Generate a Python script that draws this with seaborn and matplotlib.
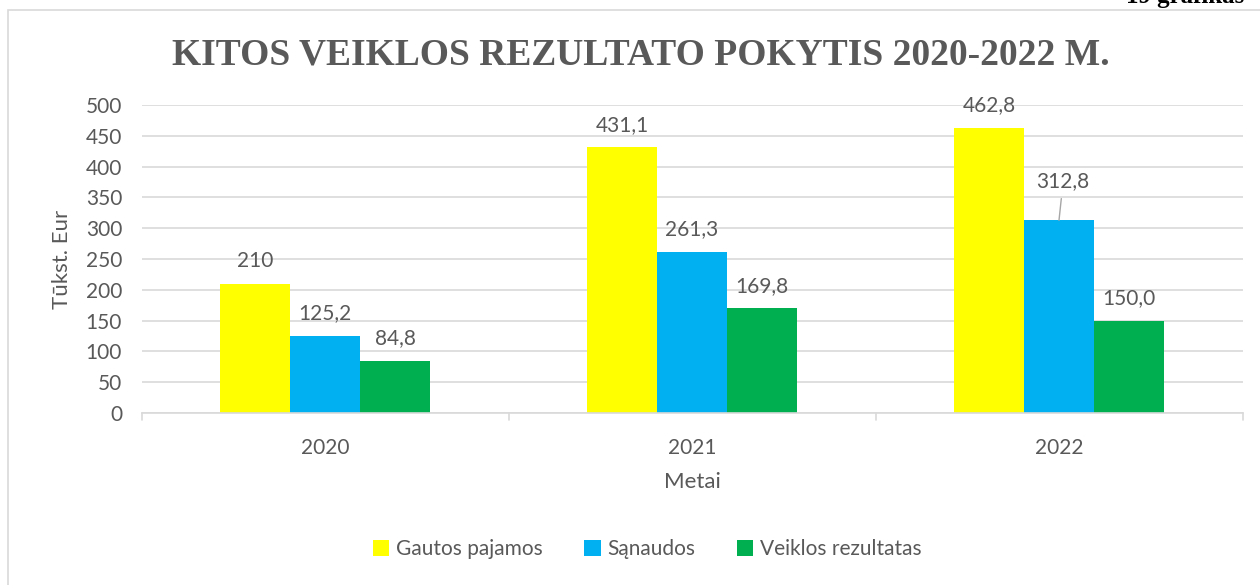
import pandas as pd
import seaborn as sns
import matplotlib.pyplot as plt
from matplotlib.patches import Rectangle

# data
years = ["2020", "2021", "2022"]
series = ["Gautos pajamos", "Sąnaudos", "Veiklos rezultatas"]
pajamos = [210.0, 431.1, 462.8]
sanaudos = [125.2, 261.3, 312.8]
rezultatas = [84.8, 169.8, 150.0]
labels_pajamos = ["210", "431,1", "462,8"]
labels_sanaudos = ["125,2", "261,3", "312,8"]
labels_rezultatas = ["84,8", "169,8", "150,0"]
colors = ["#FFFF00", "#00B0F0", "#00B050"]
txt = "#595959"

df = pd.DataFrame({
    "Metai": years * 3,
    "serija": [s for s in series for _ in years],
    "reiksme": pajamos + sanaudos + rezultatas,
})

sns.set_style("white")
plt.rcParams['font.family'] = ['Lato', 'DejaVu Sans']

fig = plt.figure(figsize=(12.6, 5.85), dpi=100)
# outer chart border
fig.patches.append(Rectangle((8 / 1260, -0.05), 1.1, 1 - 9.5 / 585 + 0.05,
                             transform=fig.transFigure, fill=False,
                             edgecolor="#d9d9d9", linewidth=1.2))
ax = fig.add_axes([141.5 / 1260, 1 - 413 / 585, 1101 / 1260, 308 / 585])

sns.barplot(data=df, x="Metai", y="reiksme", hue="serija", palette=colors,
            width=0.572, gap=0, saturation=1, linewidth=0, ax=ax, legend=True)

ax.set_xlim(-0.5, 2.5)
ax.set_ylim(0, 500)
ax.set_yticks(range(0, 501, 50))
ax.yaxis.grid(True, color="#d9d9d9", linewidth=1.2)
ax.set_axisbelow(True)
for s in ["top", "right", "left"]:
    ax.spines[s].set_visible(False)
ax.spines["bottom"].set_color("#d9d9d9")
ax.spines["bottom"].set_linewidth(1.2)
ax.tick_params(axis="y", length=0, labelsize=15, labelcolor=txt, pad=14)
ax.set_xticks([0, 1, 2])
ax.tick_params(axis="x", length=0, labelsize=15, labelcolor=txt, pad=18)
# category boundary tick marks
for b in [-0.5, 0.5, 1.5, 2.5]:
    ax.plot([b, b], [0, -11], color="#d9d9d9", lw=1.2, clip_on=False)

ax.set_xlabel("Metai", fontsize=16, color=txt, labelpad=10)
ax.set_ylabel("Tūkst. Eur", fontsize=16, color=txt, labelpad=10)

# data labels
all_labels = [labels_pajamos, labels_sanaudos, labels_rezultatas]
for cont, labs in zip(ax.containers, all_labels):
    for bar, lab in zip(cont, labs):
        x = bar.get_x() + bar.get_width() / 2
        h = bar.get_height()
        if lab == "312,8":
            ax.annotate(lab, xy=(x, h), xytext=(3, 21), textcoords="offset points",
                        ha="center", va="bottom", fontsize=15, color=txt,
                        arrowprops=dict(arrowstyle="-", color="#a6a6a6", lw=1,
                                        shrinkA=3, shrinkB=0))
        else:
            ax.annotate(lab, xy=(x, h), xytext=(0, 9), textcoords="offset points",
                        ha="center", va="bottom", fontsize=15, color=txt)

leg = ax.legend(loc="center", bbox_to_anchor=(647 / 1260, 1 - 549 / 585),
                bbox_transform=fig.transFigure, ncol=3, frameon=False,
                fontsize=15, handlelength=0.8, handleheight=0.8,
                handletextpad=0.3, columnspacing=2.0)
for t in leg.get_texts():
    t.set_color(txt)

fig.text(641 / 1260, 1 - 55 / 585, "KITOS VEIKLOS REZULTATO POKYTIS 2020-2022 M.",
         ha="center", va="center", fontsize=27, fontweight="bold",
         color=txt, family=["Liberation Serif", "DejaVu Serif"])
fig.text(1126 / 1260, 1 - 3 / 585, "19 grafikas", ha="left", va="baseline",
         fontsize=18, fontweight="bold", color="black",
         family=["Liberation Serif", "DejaVu Serif"])

fig.savefig("out.png", dpi=100)
